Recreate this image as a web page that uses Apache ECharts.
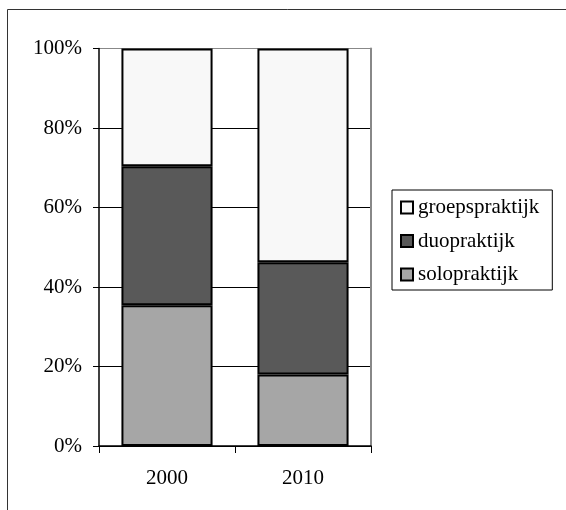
<!DOCTYPE html>
<html><head><meta charset="utf-8">
<script src="https://cdn.jsdelivr.net/npm/echarts@6/dist/echarts.min.js"></script>
<style>html,body{margin:0;padding:0;background:#fff}#c{width:566px;height:510px}</style>
</head><body><div id="c"></div>
<script>
var categories = ['2000', '2010'];
var soloValues = [35.4, 18.0];
var duoValues = [35.0, 28.2];
var groepValues = [29.6, 53.8];
var yTicks = [0, 20, 40, 60, 80, 100];

var FONT = "'Liberation Serif', 'Times New Roman', serif";
var chart = echarts.init(document.getElementById('c'), null, {renderer: 'canvas'});
var barStyle = function (c) { return {color: c, borderColor: '#000', borderWidth: 2}; };
chart.setOption({
  animation: false,
  backgroundColor: '#fff',
  graphic: [{
    type: 'rect', shape: {x: 7.5, y: 9.5, width: 700, height: 700},
    style: {fill: 'none', stroke: '#333', lineWidth: 1}, z: 0
  }],
  grid: {left: 99, right: 195, top: 48.5, bottom: 64, containLabel: false},
  legend: {
    orient: 'vertical', left: 392, top: 190,
    data: ['groepspraktijk', 'duopraktijk', 'solopraktijk'],
    borderColor: '#000', borderWidth: 1,
    padding: [7, 13, 5, 8],
    itemWidth: 12, itemHeight: 12, itemGap: 12.5,
    icon: 'rect',
    textStyle: {fontFamily: FONT, fontSize: 21, color: '#000', lineHeight: 21}
  },
  xAxis: {
    type: 'category', data: categories,
    axisLine: {show: true, lineStyle: {color: '#000', width: 1.5}},
    axisTick: {show: true, alignWithLabel: false, length: 7, lineStyle: {color: '#000'}},
    axisLabel: {fontFamily: FONT, fontSize: 21, color: '#000', margin: 22},
    splitLine: {show: false}
  },
  yAxis: [{
    type: 'value', min: 0, max: 100, interval: 20,
    axisLine: {show: true, lineStyle: {color: '#000', width: 1.5}},
    axisTick: {show: true, length: 6, lineStyle: {color: '#000'}},
    axisLabel: {fontFamily: FONT, fontSize: 21, color: '#000', margin: 17,
      formatter: function (v) { return yTicks.indexOf(v) >= 0 ? v + '%' : ''; }},
    splitLine: {show: true, lineStyle: {color: ['#000', '#000', '#000', '#000', '#000', '#888'], width: 1}}
  }, {
    type: 'value', min: 0, max: 100, interval: 20, position: 'right',
    axisLine: {show: true, lineStyle: {color: '#888', width: 2}},
    axisTick: {show: false}, axisLabel: {show: false}, splitLine: {show: false}
  }],
  series: [
    {name: 'solopraktijk', type: 'bar', stack: 't', data: soloValues, barWidth: '67%', itemStyle: barStyle('#a6a6a6')},
    {name: 'duopraktijk', type: 'bar', stack: 't', data: duoValues, barWidth: '67%', itemStyle: barStyle('#595959')},
    {name: 'groepspraktijk', type: 'bar', stack: 't', data: groepValues, barWidth: '67%', itemStyle: barStyle('#f8f8f8')}
  ]
});
</script></body></html>
